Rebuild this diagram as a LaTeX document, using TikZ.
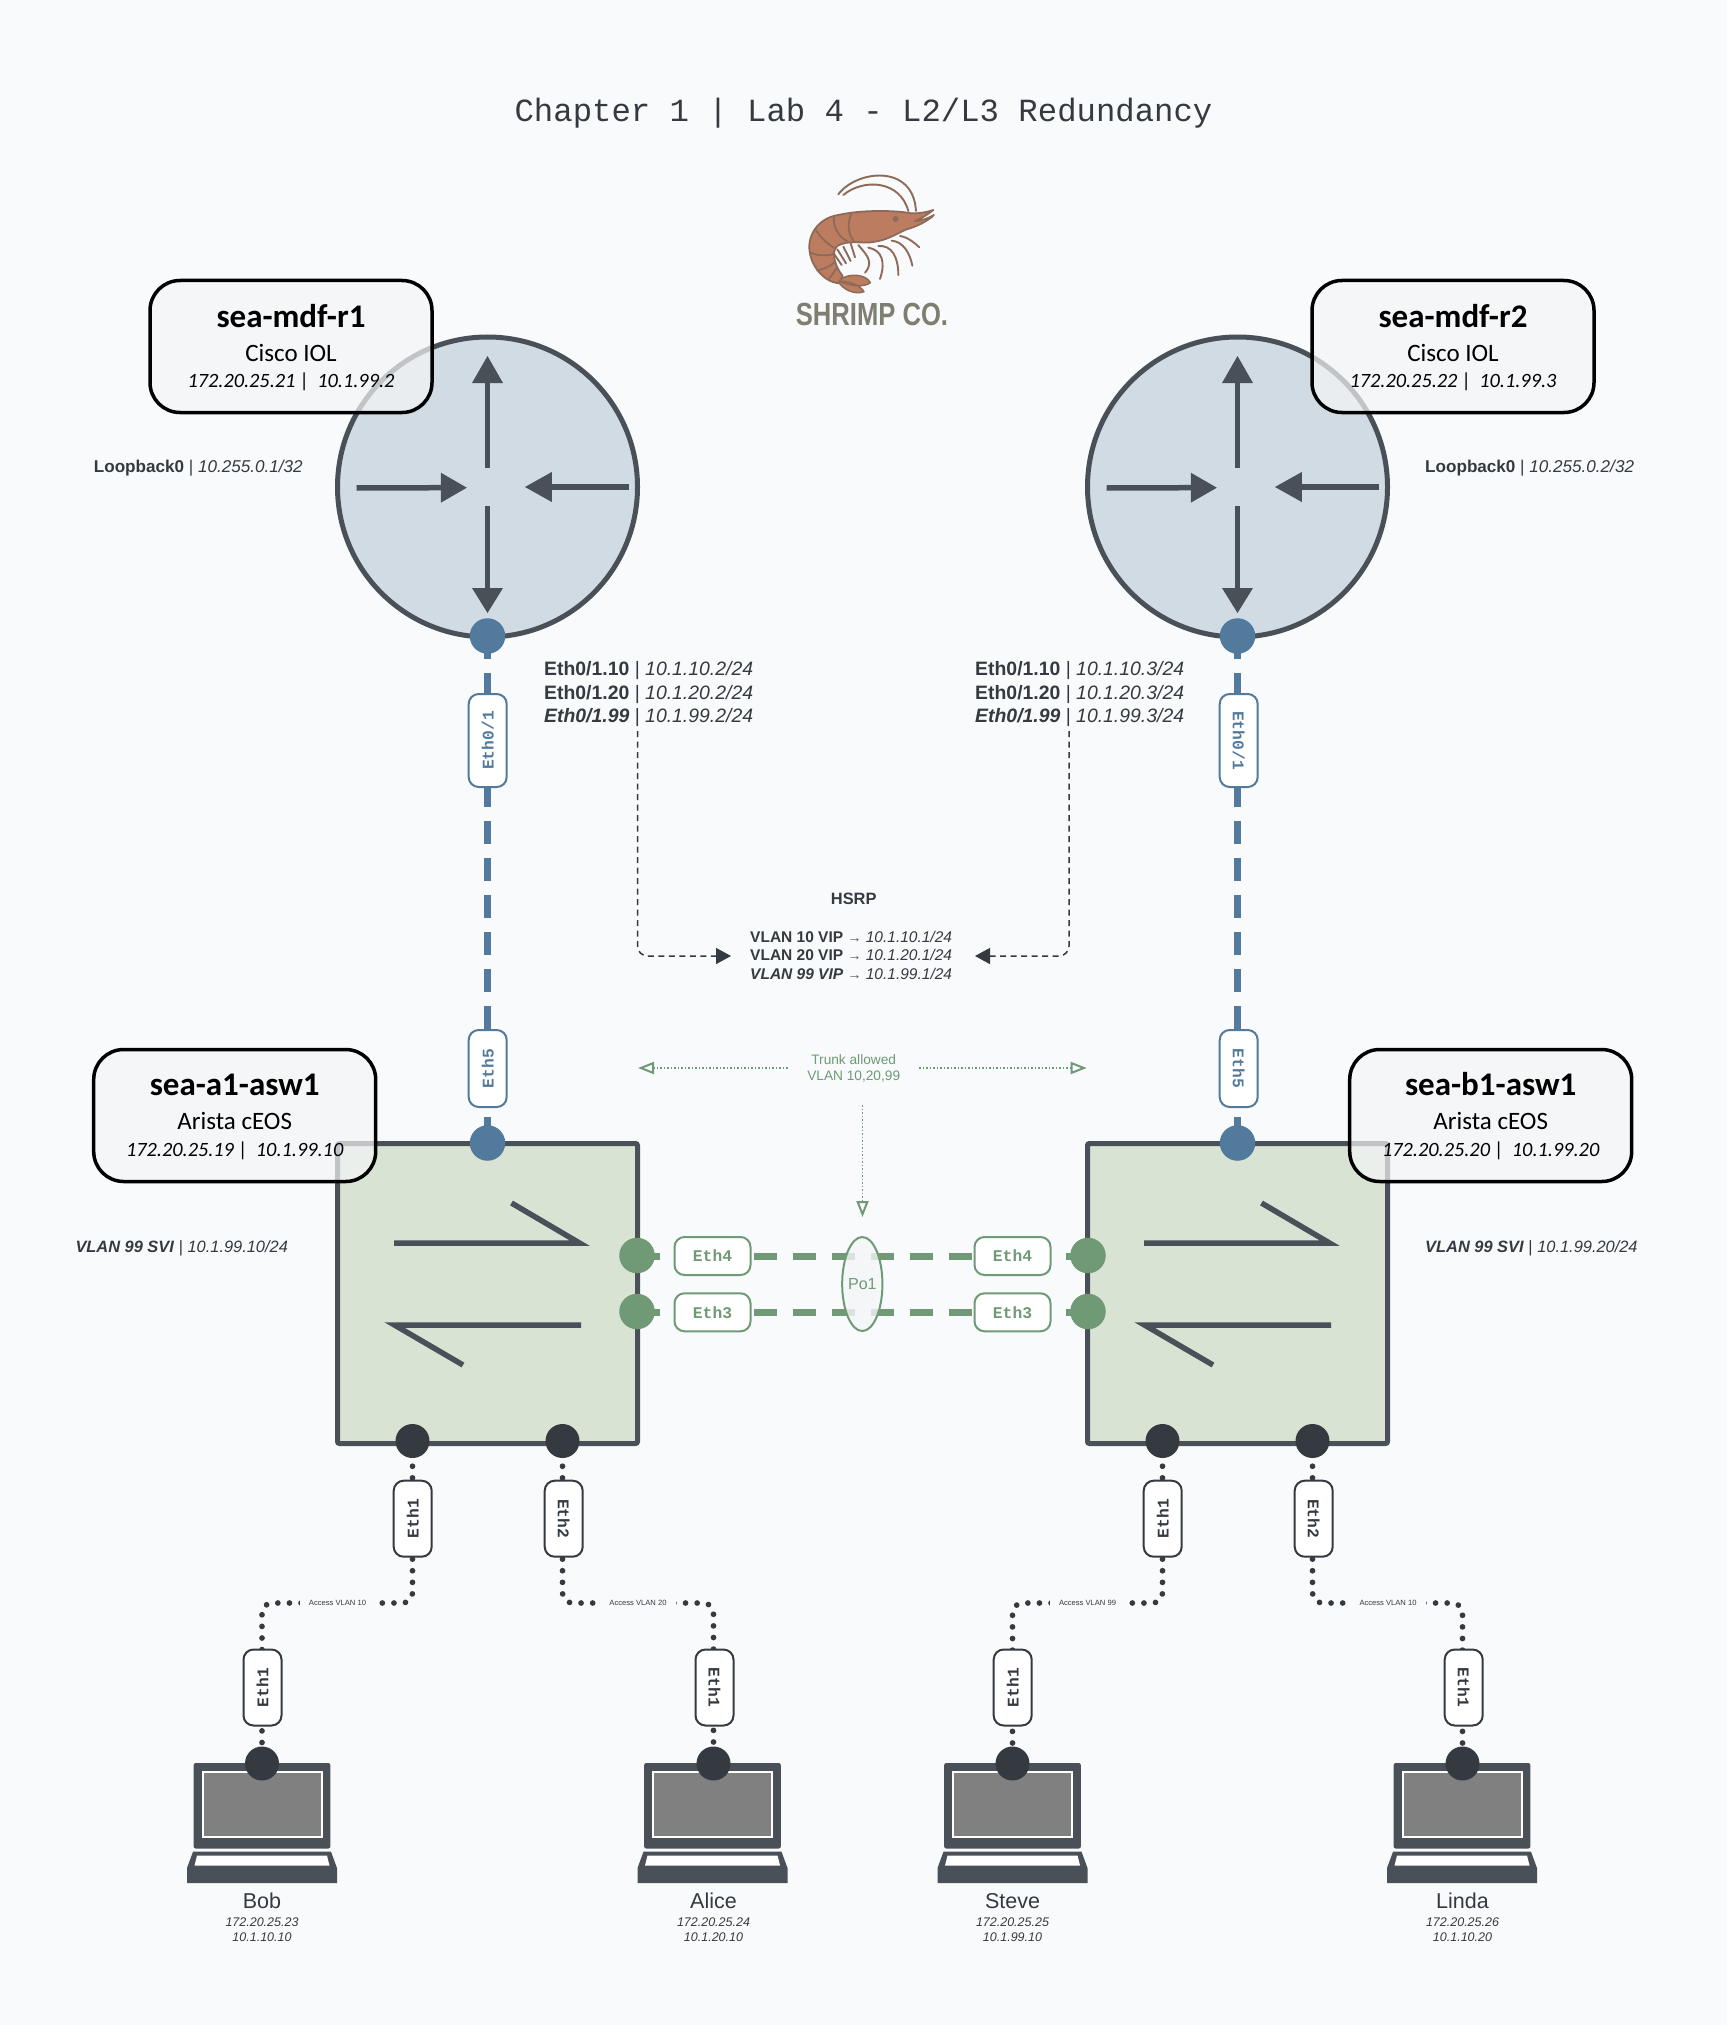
\documentclass[tikz,border=0pt]{standalone}
\usepackage{fontspec}
\setmainfont{Liberation Sans}
\setmonofont{Liberation Mono}
\newfontfamily\carl{Carlito}
\usetikzlibrary{arrows.meta,shapes.geometric,calc}
\definecolor{bgc}{HTML}{F8FAFC}
\definecolor{ink}{HTML}{343A40}
\definecolor{steel}{HTML}{495057}
\definecolor{routerfill}{HTML}{D1DBE4}
\definecolor{swfill}{HTML}{D8E3D4}
\definecolor{bluec}{HTML}{527A9C}
\definecolor{greenc}{HTML}{6F9A75}
\definecolor{boxfill}{HTML}{F4F5F6}
\definecolor{shrimpfill}{HTML}{BC7C60}
\definecolor{shrimpline}{HTML}{8E6A58}
\definecolor{logotext}{HTML}{7F7E71}
\newcommand\myfs[1]{\fontsize{#1}{#1}\selectfont}
\tikzset{
  routerdev/.style={circle,draw=steel,fill=routerfill,line width=5pt,minimum size=300pt,inner sep=0pt},
  switchdev/.style={rectangle,draw=steel,fill=swfill,line width=5pt,minimum size=300pt,inner sep=0pt,rounded corners=2pt},
  portdot/.style={circle,inner sep=0pt,minimum size=35.5pt,fill=#1},
  hostdot/.style={circle,inner sep=0pt,minimum size=34pt,fill=ink},
  glyph/.style={draw=steel,line width=5.5pt},
  glyphhead/.style={fill=steel},
  infobox/.style={rectangle,rounded corners=30pt,draw=black,line width=3.5pt,fill=boxfill,fill opacity=.7,text opacity=1,minimum width=282pt,minimum height=132pt,inner sep=0pt},
  boxtitle/.style={font=\carl\bfseries\myfs{33},text=black,inner sep=0pt,anchor=base},
  boxsub/.style={font=\carl\myfs{25},text=black,inner sep=0pt,anchor=base},
  boxip/.style={font=\carl\itshape\myfs{20.3},text=black,inner sep=0pt,anchor=base},
  sidelabel/.style={text=ink,inner sep=0pt,anchor=base west},
  iflabel/.style={font=\myfs{19.4},text=ink,inner sep=0pt,anchor=base west},
  viplabel/.style={font=\myfs{15.5},text=ink,inner sep=0pt,anchor=base west},
  tagbase/.style={rectangle,rounded corners=10pt,fill=white,line width=2pt,font=\ttfamily\bfseries\myfs{16.3},inner sep=0pt,minimum height=38pt},
  bluetag/.style={tagbase,draw=bluec,text=bluec},
  greentag/.style={tagbase,draw=greenc,text=greenc,minimum width=76pt},
  inktag/.style={tagbase,draw=ink,text=ink,minimum width=76pt},
  bluelink/.style={draw=bluec,line width=7pt,dash pattern=on 22.5pt off 14.5pt},
  greenlink/.style={draw=greenc,line width=7pt,dash pattern=on 23pt off 16pt},
  inklink/.style={draw=ink,line width=5.7pt,line cap=round,rounded corners=10pt,dash pattern=on 0.01pt off 11.6pt,dash phase=9.6pt},
  hsrplink/.style={draw=ink,line width=1.5pt,rounded corners=10pt,dash pattern=on 6pt off 4.5pt,-{Triangle[length=15pt,width=16pt]}},
  trunklink/.style={draw=greenc,line width=1.4pt,dash pattern=on 1.5pt off 2pt,-{Triangle[open,length=16pt,width=12pt,fill=bgc,line width=2pt]}},
  accesslabel/.style={font=\myfs{7.6},text=ink,fill=bgc,inner xsep=9pt,inner ysep=3pt},
  hostname/.style={font=\myfs{21.5},text=ink,inner sep=0pt,anchor=base},
  hostip/.style={font=\itshape\myfs{12.5},text=ink,inner sep=0pt,anchor=base},
}
\newcommand\routerglyph[1]{%
  \begin{scope}[shift={(#1,0)}]
    \draw[glyph] (0,468) -- (0,380);
    \fill[glyphhead] (0,356) -- (15.5,383) -- (-15.5,383) -- cycle;
    \draw[glyph] (0,506) -- (0,590);
    \fill[glyphhead] (0,613) -- (15.5,588) -- (-15.5,588) -- cycle;
    \draw[glyph] (-131,488) -- (-45,487.7);
    \fill[glyphhead] (-20.7,487.7) -- (-46.7,472.7) -- (-46.7,502.7) -- cycle;
    \draw[glyph] (141.5,487) -- (62,487);
    \fill[glyphhead] (37.5,487) -- (64.3,472) -- (64.3,502) -- cycle;
  \end{scope}}
\newcommand\switchglyph[1]{%
  \begin{scope}[shift={(#1,0)}]
    \draw[draw=steel,line width=5.5pt,miter limit=20] (-93.5,1243) -- (92,1243) -- (24,1203);
    \draw[draw=steel,line width=5.5pt,miter limit=20] (93.5,1325) -- (-93,1325) -- (-24.5,1365);
  \end{scope}}
\newcommand\laptop[5]{% body centre, dot centre, name, label, addresses
  \begin{scope}[shift={(#1,0)}]
    \fill[steel,rounded corners=2pt] (-68.3,1763) rectangle (68.3,1848.5);
    \draw[white,line width=2pt,fill=gray] (-59.5,1771.5) rectangle (59.5,1837);
    \fill[steel] (-69,1851.7) -- (69,1851.7) -- (75,1868) -- (75,1883) -- (-75,1883) -- (-75,1868) -- cycle;
    \fill[white] (-65,1855.5) -- (65,1855.5) -- (67.5,1865.5) -- (-67.5,1865.5) -- cycle;
  \end{scope}
  \node[hostdot] (#3) at (#2,1763.5) {};
  \node[hostname] (#3name) at (#2,1908.4) {#4};
  \node[hostip] (#3ipa) at (#2,1926.3) {172.20.25.#5};}
\newcommand\ifblock[3]{%
  \node[iflabel] (#1a) at (#2,675.7) {\textbf{Eth0/1.10} | \textit{10.1.10.#3/24}};
  \node[iflabel] (#1b) at (#2,699) {\textbf{Eth0/1.20} | \textit{10.1.20.#3/24}};
  \node[iflabel] (#1c) at (#2,722.3) {\textbf{\textit{Eth0/1.99}} | \textit{10.1.99.#3/24}};}
\begin{document}
\begin{tikzpicture}[x=1pt,y=-1pt]
\useasboundingbox (0,0) rectangle (1727,2025);
\fill[bgc] (0,0) rectangle (1727,2025);

\node[font=\ttfamily\myfs{32.3},text=ink,inner sep=0pt,anchor=base] (title) at (863.5,121.7) {Chapter 1 | Lab 4 - L2/L3 Redundancy};

% logo
\begin{scope}[shift={(760,150)},x=0.3333pt,y=-0.3333pt]
  \draw[shrimpline,line width=1.9pt,line cap=round]
    (235,133) .. controls (290,60) and (460,40) .. (468,183)
    (250,135) .. controls (310,85) and (420,90) .. (445,183)
    (420,258) .. controls (445,262) and (465,280) .. (478,292)
    (395,272) .. controls (430,275) and (450,310) .. (457,347)
    (355,288) .. controls (395,285) and (415,320) .. (415,375)
    (325,293) .. controls (365,300) and (378,335) .. (360,387)
    (295,285) .. controls (315,310) and (345,335) .. (315,368)
    (272,280) -- (285,322)
    (250,290) -- (272,333)
    (232,298) -- (258,340)
    (222,312) -- (245,345);
  \draw[shrimpline,fill=shrimpfill,line width=1.5pt,line join=round]
    (235,392) .. controls (270,365) and (320,375) .. (331,398)
    .. controls (315,412) and (270,410) .. (235,392) -- cycle
    (235,395) .. controls (260,390) and (300,405) .. (312,425)
    .. controls (285,435) and (250,420) .. (235,395) -- cycle;
  \draw[shrimpline,fill=shrimpfill,line width=1.8pt,line join=round]
    (520,180) .. controls (495,188) and (480,190) .. (455,190)
    .. controls (400,180) and (300,180) .. (235,195)
    .. controls (170,205) and (145,260) .. (148,295)
    .. controls (150,345) and (190,395) .. (235,400)
    -- (248,378)
    .. controls (225,350) and (212,305) .. (232,288)
    .. controls (265,268) and (310,282) .. (340,276)
    .. controls (385,270) and (410,250) .. (440,238)
    .. controls (470,230) and (505,212) .. (522,195)
    .. controls (505,205) and (485,212) .. (464,214)
    .. controls (485,205) and (505,192) .. (520,180) -- cycle;
  \draw[shrimpline,line width=1.8pt]
    (222,200) .. controls (218,230) and (235,260) .. (262,274)
    (275,190) .. controls (260,220) and (265,255) .. (282,274)
    (168,240) .. controls (180,260) and (200,280) .. (222,294)
    (150,308) .. controls (175,318) and (200,318) .. (222,312)
    (170,362) .. controls (190,358) and (210,350) .. (226,335)
    (205,390) -- (232,352);
  \fill[shrimpline] (407,207) circle (9);
\end{scope}
\node[inner sep=0pt,text=logotext,font=\bfseries\myfs{32},anchor=base] (logotxt) at (872,325.5) {\scalebox{0.8}[1]{SHRIMP CO.}};

% devices
\node[routerdev] (r1) at (487.5,487) {};
\node[routerdev] (r2) at (1237.5,487) {};
\routerglyph{487.5}
\routerglyph{1237.5}
\node[switchdev] (a1) at (487.5,1293.5) {};
\node[switchdev] (b1) at (1237.5,1293.5) {};
\switchglyph{487.5}
\switchglyph{1237.5}
\laptop{262}{262}{bob}{Bob}{23}
\node[hostip] (bobipb) at (262,1941.3) {10.1.10.10};
\laptop{712.5}{713.5}{alice}{Alice}{24}
\node[hostip] (aliceipb) at (713.5,1941.3) {10.1.20.10};
\laptop{1012.5}{1012.5}{steve}{Steve}{25}
\node[hostip] (steveipb) at (1012.5,1941.3) {10.1.99.10};
\laptop{1462}{1462.5}{linda}{Linda}{26}
\node[hostip] (lindaipb) at (1462.5,1941.3) {10.1.10.20};

% ports
\node[portdot=bluec] (r1p) at (487.5,636) {};
\node[portdot=bluec] (r2p) at (1237.5,636) {};
\node[portdot=bluec] (a1p) at (487.5,1143) {};
\node[portdot=bluec] (b1p) at (1237.5,1143) {};
\node[portdot=greenc] (a1e4) at (637,1255.5) {};
\node[portdot=greenc] (a1e3) at (637,1311.5) {};
\node[portdot=greenc] (b1e4) at (1088,1255.5) {};
\node[portdot=greenc] (b1e3) at (1088,1311.5) {};
\node[hostdot] (a1e1) at (412.5,1441) {};
\node[hostdot] (a1e2) at (562.5,1441) {};
\node[hostdot] (b1e1) at (1162.5,1441) {};
\node[hostdot] (b1e2) at (1312.5,1441) {};

% connectors
\draw[bluelink] (r1p.center) -- (a1p.center);
\draw[bluelink] (r2p.center) -- (b1p.center);
\coordinate (g4) at (637,1256.3);
\coordinate (g3) at (637,1312);
\draw[greenlink] (a1e4.center |- g4) -- (b1e4.center |- g4);
\draw[greenlink] (a1e3.center |- g3) -- (b1e3.center |- g3);
\coordinate (m1) at (337.5,1603);
\coordinate (m2) at (638,1603);
\coordinate (m3) at (1087.5,1603);
\coordinate (m4) at (1388,1603);
\draw[inklink] (a1e1.center) |- (m1) -| (bob.center);
\draw[inklink] (a1e2.center) |- (m2) -| (alice.center);
\draw[inklink] (b1e1.center) |- (m3) -| (steve.center);
\draw[inklink] (b1e2.center) |- (m4) -| (linda.center);

% access labels
\node[accesslabel] (acc1) at (m1) {Access VLAN 10};
\node[accesslabel] (acc2) at (m2) {Access VLAN 20};
\node[accesslabel] (acc3) at (m3) {Access VLAN 99};
\node[accesslabel] (acc4) at (m4) {Access VLAN 10};

% interface tags
\node[bluetag,rotate=90,minimum width=93pt] (t1) at (487.7,740.5) {Eth0/1};
\node[bluetag,rotate=-90,minimum width=93pt] (t2) at (1238.7,740.5) {Eth0/1};
\node[bluetag,rotate=90,minimum width=77pt] (t3) at (487.7,1068.5) {Eth5};
\node[bluetag,rotate=-90,minimum width=77pt] (t4) at (1238.7,1068.5) {Eth5};
\node[greentag] (t5) at (712.5,1256) {Eth4};
\node[greentag] (t6) at (712.5,1312.3) {Eth3};
\node[greentag] (t7) at (1012.5,1256) {Eth4};
\node[greentag] (t8) at (1012.5,1312.3) {Eth3};
\node[inktag,rotate=90] (t9) at (412.7,1518.7) {Eth1};
\node[inktag,rotate=-90] (t10) at (563.7,1518.7) {Eth2};
\node[inktag,rotate=90] (t11) at (262.5,1687.5) {Eth1};
\node[inktag,rotate=-90] (t12) at (714.5,1687.5) {Eth1};
\node[inktag,rotate=90] (t13) at (1162.7,1518.7) {Eth1};
\node[inktag,rotate=-90] (t14) at (1313.7,1518.7) {Eth2};
\node[inktag,rotate=90] (t15) at (1012.7,1687.5) {Eth1};
\node[inktag,rotate=-90] (t16) at (1463.7,1687.5) {Eth1};

% port-channel
\node[ellipse,draw=greenc,line width=2pt,fill=boxfill,fill opacity=.8,text opacity=1,text=greenc,font=\myfs{16},minimum width=38pt,minimum height=94pt,inner sep=0pt] (po1) at (862.3,1284) {Po1};

% info boxes
\node[infobox] (r1box) at (291,346.5) {};
\node[boxtitle] (r1t) at (291,327.7) {sea-mdf-r1};
\node[boxsub] (r1s) at (291,361.7) {Cisco IOL};
\node[boxip] (r1i) at (291,387.3) {172.20.25.21 |\ \,10.1.99.2};
\node[infobox] (r2box) at (1453,346.5) {};
\node[boxtitle] (r2t) at (1453,327.7) {sea-mdf-r2};
\node[boxsub] (r2s) at (1453,361.7) {Cisco IOL};
\node[boxip] (r2i) at (1453,387.3) {172.20.25.22 |\ \,10.1.99.3};
\node[infobox] (a1box) at (234.7,1115.5) {};
\node[boxtitle] (a1t) at (234.7,1095.3) {sea-a1-asw1};
\node[boxsub] (a1s) at (234.7,1129.7) {Arista cEOS};
\node[boxip] (a1i) at (234.7,1156) {172.20.25.19 |\ \,10.1.99.10};
\node[infobox] (b1box) at (1490.7,1115.5) {};
\node[boxtitle] (b1t) at (1490.7,1095.3) {sea-b1-asw1};
\node[boxsub] (b1s) at (1490.7,1129.7) {Arista cEOS};
\node[boxip] (b1i) at (1490.7,1156) {172.20.25.20 |\ \,10.1.99.20};

% side labels
\node[sidelabel,font=\myfs{17.1}] (lo1) at (93.7,472.3) {\textbf{Loopback0} | \textit{10.255.0.1/32}};
\node[sidelabel,font=\myfs{17.1}] (lo2) at (1425,472.3) {\textbf{Loopback0} | \textit{10.255.0.2/32}};
\node[sidelabel,font=\myfs{16.4}] (svi1) at (75.3,1252.3) {\textbf{\textit{VLAN 99 SVI}} | \textit{10.1.99.10/24}};
\node[sidelabel,font=\myfs{16.4}] (svi2) at (1425,1252.3) {\textbf{\textit{VLAN 99 SVI}} | \textit{10.1.99.20/24}};

% interface IP blocks
\ifblock{ifl}{544}{2}
\ifblock{ifr}{975}{3}

% HSRP
\node[font=\bfseries\myfs{16.4},text=ink,inner sep=0pt,anchor=base] (hsrp) at (853.7,904.3) {HSRP};
\node[viplabel] (v10) at (750,942) {\textbf{VLAN 10 VIP} {\color{steel}\myfs{14}→} \textit{10.1.10.1/24}};
\node[viplabel] (v20) at (750,960.7) {\textbf{VLAN 20 VIP} {\color{steel}\myfs{14}→} \textit{10.1.20.1/24}};
\node[viplabel] (v99) at (750,979) {\textbf{\textit{VLAN 99 VIP}} {\color{steel}\myfs{14}→} \textit{10.1.99.1/24}};
\coordinate (hl0) at (637.5,731);
\coordinate (hr0) at (1069,731);
\coordinate (hl1) at (731,956);
\coordinate (hr1) at (975,956);
\draw[hsrplink] (hl0) |- (hl1);
\draw[hsrplink] (hr0) |- (hr1);

% trunk
\node[font=\myfs{13.7},text=greenc,inner sep=0pt,anchor=base] (trunka) at (853.7,1064.3) {Trunk allowed};
\node[font=\myfs{13.7},text=greenc,inner sep=0pt,anchor=base] (trunkb) at (853.7,1080.3) {VLAN 10,20,99};
\coordinate (tl0) at (787.7,1068);
\coordinate (tr0) at (919,1068);
\coordinate (tl1) at (638,1068);
\coordinate (tr1) at (1086.7,1068);
\coordinate (tv0) at (862.5,1105);
\coordinate (tv1) at (862.5,1217);
\draw[trunklink] (tl0) -- (tl1);
\draw[trunklink] (tr0) -- (tr1);
\draw[trunklink] (tv0) -- (tv1);
\end{tikzpicture}
\end{document}
